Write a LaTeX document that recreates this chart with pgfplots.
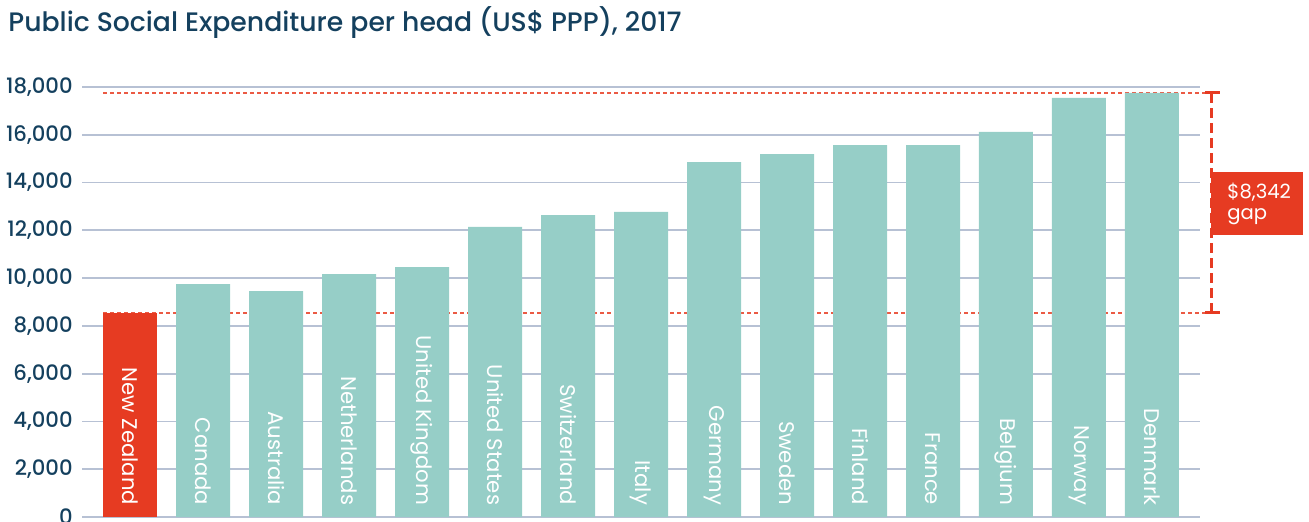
\documentclass[border=0pt]{standalone}
\usepackage{fontspec}
\setmainfont{Poppins}
\newfontfamily\popmed{Poppins Medium}
\usepackage{pgfplots}
\usepackage{pgfplotstable}
\pgfplotsset{compat=1.18}

\definecolor{navy}{HTML}{14405E}
\definecolor{tealbar}{HTML}{96CEC7}
\definecolor{nzred}{HTML}{E63B22}
\definecolor{dashred}{HTML}{EB5A44}
\definecolor{gridc}{HTML}{B7C1D4}

% spending per head, US$ PPP, 2017
\pgfplotstableread[col sep=comma]{
x,y,label
0,8540,New Zealand
1,9750,Canada
2,9460,Australia
3,10170,Netherlands
4,10460,United Kingdom
5,12140,United States
6,12640,Switzerland
7,12770,Italy
8,14860,Germany
9,15190,Sweden
10,15570,Finland
11,15570,France
12,16120,Belgium
13,17540,Norway
14,17750,Denmark
}\spend

\begin{document}
\begin{tikzpicture}
\begin{axis}[
    name=ax, at={(0,0)}, anchor=south west,
    scale only axis, width=559pt, height=215pt,
    xmin=-0.658, xmax=14.658, ymin=0, ymax=18000,
    axis line style={draw=none},
    xtick=\empty,
    ytick={0,2000,...,18000},
    ymajorgrids,
    major grid style={draw=gridc, line width=0.9pt},
    major tick length=0pt,
    scaled y ticks=false,
    yticklabel style={font=\popmed\fontsize{10.6}{13}\selectfont, text=navy,
        anchor=east, inner sep=0pt, xshift=-4.5pt,
        /pgf/number format/fixed,
        /pgf/number format/1000 sep={,},
        /pgf/number format/assume math mode=true},
    clip=false,
]
% reference lines at New Zealand and Denmark
\addplot[draw=dashred, line width=0.6pt, dash pattern=on 2pt off 1.5pt]
    coordinates {(-0.37,8540) (14.86,8540)};
\addplot[draw=dashred, line width=0.6pt, dash pattern=on 2pt off 1.5pt]
    coordinates {(-0.37,17750) (14.86,17750)};

\addplot[ybar, bar width=27pt, fill=nzred, draw=none,
    restrict x to domain=-0.5:0.5] table[x=x, y=y] {\spend};
\addplot[ybar, bar width=27pt, fill=tealbar, draw=none,
    restrict x to domain=0.5:14.5] table[x=x, y=y] {\spend};

% country names inside the bars
\addplot[draw=none, mark=none, nodes near coords, point meta=explicit symbolic,
    nodes near coords style={rotate=-90, anchor=east, inner sep=0pt,
        text=white, font=\fontsize{10.6}{12}\selectfont},
    restrict x to domain=-0.5:14.5]
    table[x=x, y expr=480, meta=label] {\spend};

% gap marker
\draw[nzred, line width=1.5pt, dash pattern=on 5pt off 2.5pt]
    (axis cs:14.82,8540) -- (axis cs:14.82,17750);
\draw[nzred, line width=1.5pt] (axis cs:14.726,8540) -- (axis cs:14.932,8540);
\draw[nzred, line width=1.5pt] (axis cs:14.726,17750) -- (axis cs:14.932,17750);
\node[anchor=north west, fill=nzred, text=white, inner xsep=8pt, inner ysep=0pt,
    minimum height=31.5pt, text width=30pt, align=left,
    font=\fontsize{9.8}{10.5}\selectfont]
    at (axis cs:14.808,14441) {\$8,342\\gap};
\end{axis}

\node[anchor=base west, inner sep=0pt, text=navy,
    font=\popmed\fontsize{13.35}{15}\selectfont]
    at (-37pt,242.5pt) {Public Social Expenditure per head (US\$ PPP), 2017};

\pgfresetboundingbox
\path[use as bounding box] (-41pt,-2pt) rectangle (613.5pt,258.5pt);
\end{tikzpicture}
\end{document}
